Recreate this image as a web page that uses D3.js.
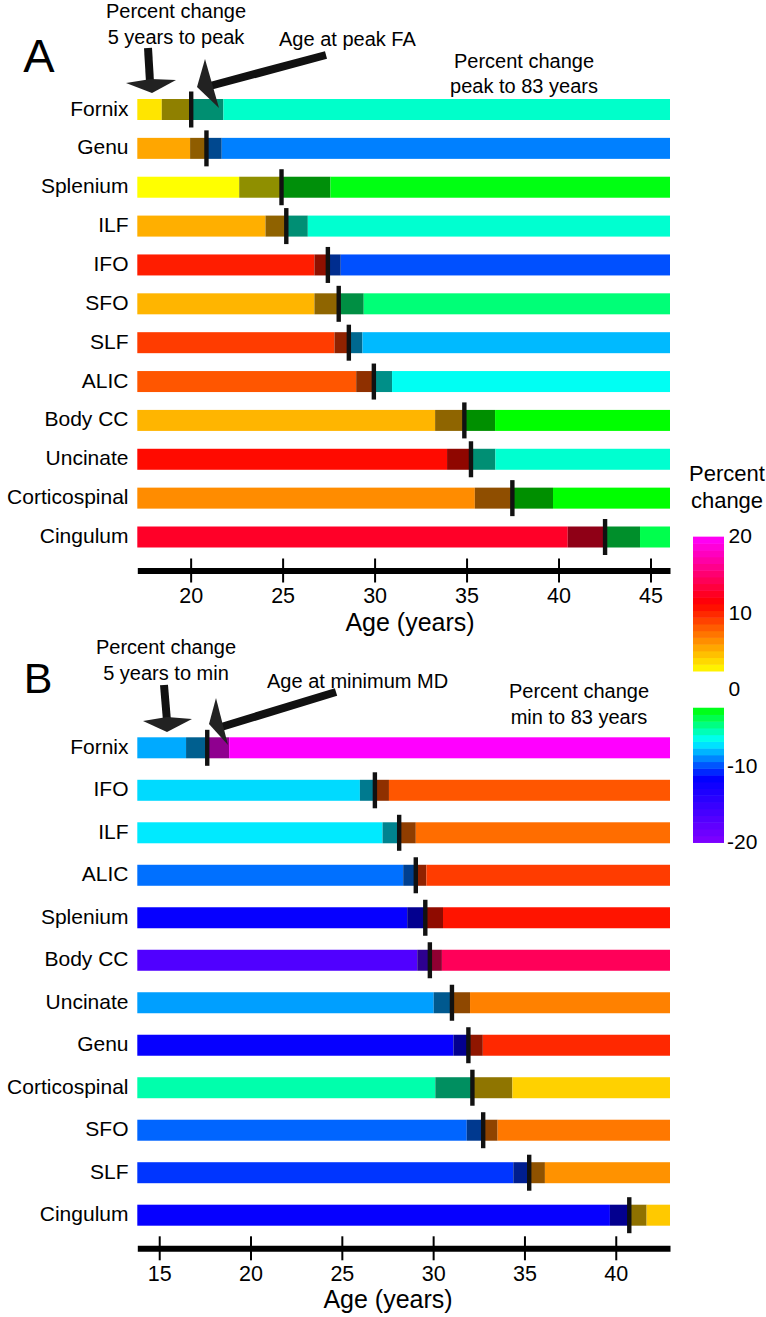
<!DOCTYPE html>
<html><head><meta charset="utf-8">
<script src="https://cdn.jsdelivr.net/npm/d3@7"></script>
<style>
body{margin:0;background:#fff}
svg{display:block}
text{font-family:"Liberation Sans",Arial,sans-serif;fill:#000}
</style>
</head><body>
<svg id="chart" width="766" height="1317"></svg>
<script>
// ---------- Panel A: FA, age at peak ----------
const tractsA = ["Fornix","Genu","Splenium","ILF","IFO","SFO","SLF","ALIC","Body CC","Uncinate","Corticospinal","Cingulum"];
const peakAgeA = [20.03, 20.86, 24.94, 25.20, 27.46, 28.05, 28.60, 29.96, 34.88, 35.24, 37.49, 42.53];
const ciLowA   = [18.43, 19.97, 22.64, 24.07, 26.73, 26.73, 27.82, 29.00, 33.29, 33.94, 35.45, 40.50];
const ciHighA  = [21.78, 21.69, 27.60, 26.37, 28.16, 29.41, 29.34, 30.95, 36.55, 36.57, 39.70, 44.43];
const changeToPeakA    = [3.2, 5.4, 2.3, 5.1, 10.2, 4.9, 9.1, 8.2, 4.9, 10.85, 6.3, 12.55];
const changeAfterPeakA = [-5.9, -9.2, -2.8, -6.0, -10.1, -4.5, -8.1, -6.6, -2.5, -6.0, -2.5, -3.8];
const ticksA = [20, 25, 30, 35, 40, 45];
const ageRangeA = [17.1, 46.06];

// ---------- Panel B: MD, age at minimum ----------
const tractsB = ["Fornix","IFO","ILF","ALIC","Splenium","Body CC","Uncinate","Genu","Corticospinal","SFO","SLF","Cingulum"];
const minAgeB = [17.63, 26.81, 28.14, 29.05, 29.57, 29.82, 31.03, 31.93, 32.15, 32.74, 35.26, 40.74];
const ciLowB  = [16.47, 25.99, 27.23, 28.36, 28.58, 29.13, 30.03, 31.11, 30.12, 31.84, 34.39, 39.68];
const ciHighB = [18.83, 27.58, 29.05, 29.63, 30.54, 30.48, 32.02, 32.72, 34.34, 33.53, 36.12, 41.69];
const changeToMinB    = [-8.4, -7.5, -7.2, -9.5, -12.0, -16.85, -8.6, -12.0, -5.4, -9.7, -10.6, -12.0];
const changeAfterMinB = [19.8, 8.2, 7.4, 9.1, 10.5, 14.2, 6.7, 9.8, 3.9, 7.0, 6.1, 4.2];
const ticksB = [15, 20, 25, 30, 35, 40];
const ageRangeB = [13.8, 42.97];

// ---------- Colour bar ----------
const legendTicks = [20, 10, 0, -10, -20];
const legendPosRange = [2.3, 19.85];
const legendNegRange = [-20.1, -2.5];

// colour map (percent change -> colour)
const posColor = d3.scaleLinear().domain([2.3, 11.2, 19.8]).range(["#ffff00", "#ff0000", "#ff00ff"]).clamp(true);
const negColor = d3.scaleLinear().domain([-20, -11.6, -6.8, -2.5]).range(["#8000ff", "#0000ff", "#00ffff", "#00ff00"]).clamp(true);
const pctColor = v => v >= 0 ? posColor(v) : negColor(v);
const darken = c => d3.interpolateRgb(c, "#000")(0.44);

const svg = d3.select("#chart");

function panel(cfg) {
  const x = d3.scaleLinear().domain(cfg.range).range([137.3, 670]);
  const y = d3.scalePoint().domain(cfg.tracts).range(cfg.yRange);
  const barH = 21;
  const g = svg.append("g");
  const rows = cfg.tracts.map((t, i) => ({
    t, peak: cfg.peak[i], lo: cfg.lo[i], hi: cfg.hi[i],
    c1: pctColor(cfg.before[i]), c2: pctColor(cfg.after[i])
  }));
  const row = g.selectAll("g.row").data(rows).join("g").attr("class", "row");
  const segs = d => [
    {x0: cfg.range[0], x1: d.lo, c: d.c1},
    {x0: d.lo, x1: d.peak, c: darken(d.c1)},
    {x0: d.peak, x1: d.hi, c: darken(d.c2)},
    {x0: d.hi, x1: cfg.range[1], c: d.c2}
  ].map(s => Object.assign(s, {t: d.t}));
  row.selectAll("rect.seg").data(segs).join("rect").attr("class", "seg")
    .attr("x", s => x(s.x0)).attr("width", s => x(s.x1) - x(s.x0))
    .attr("y", s => y(s.t) - barH / 2).attr("height", barH)
    .attr("fill", s => s.c);
  row.append("rect")
    .attr("x", d => x(d.peak) - 2.2).attr("width", 4.4)
    .attr("y", d => y(d.t) - 18).attr("height", 36)
    .attr("fill", "#111");
  row.append("text")
    .attr("x", 128.5).attr("y", d => y(d.t) + 6)
    .attr("text-anchor", "end").style("font-size", "21px")
    .text(d => d.t);

  const ax = g.append("g").attr("transform", `translate(0,${cfg.axisY})`)
    .call(d3.axisBottom(x).tickValues(cfg.ticks).tickSizeOuter(0).tickSizeInner(12).tickFormat(d3.format("d")));
  ax.select(".domain").attr("stroke", "#000").attr("stroke-width", 6);
  ax.selectAll(".tick line").attr("y1", -12).attr("y2", 12).attr("stroke", "#000").attr("stroke-width", 2);
  ax.selectAll(".tick text").attr("y", 32.5).attr("dy", null)
    .style("font-size", "21.5px").style("font-family", "Liberation Sans, Arial, sans-serif").attr("fill", "#000");
  g.append("text").attr("x", cfg.labelX).attr("y", cfg.axisY + 60)
    .attr("text-anchor", "middle").style("font-size", "25px").text("Age (years)");
  return g;
}

panel({tracts: tractsA, peak: peakAgeA, lo: ciLowA, hi: ciHighA, before: changeToPeakA, after: changeAfterPeakA,
  range: ageRangeA, ticks: ticksA, yRange: [109.5, 537], axisY: 570.5, labelX: 410});
panel({tracts: tractsB, peak: minAgeB, lo: ciLowB, hi: ciHighB, before: changeToMinB, after: changeAfterMinB,
  range: ageRangeB, ticks: ticksB, yRange: [747.8, 1215.2], axisY: 1248.3, labelX: 388});

// ---------- annotations ----------
const ann = svg.append("g");
function txt(x, y, s, size, anchor) {
  ann.append("text").attr("x", x).attr("y", y).attr("text-anchor", anchor || "middle")
    .style("font-size", size + "px").text(s);
}
txt(39, 72, "A", 47);
txt(38, 693, "B", 43);
txt(176, 18, "Percent change", 20);
txt(176, 44, "5 years to peak", 20);
txt(279, 46, "Age at peak FA", 20, "start");
txt(524, 68, "Percent change", 20);
txt(524, 93, "peak to 83 years", 20);
txt(166, 654, "Percent change", 20);
txt(166, 680, "5 years to min", 20);
txt(267, 688, "Age at minimum MD", 20, "start");
txt(579, 698, "Percent change", 20);
txt(579, 724, "min to 83 years", 20);

// arrows
function arrow(shaft, head) {
  ann.append("line").attr("x1", shaft[0][0]).attr("y1", shaft[0][1]).attr("x2", shaft[1][0]).attr("y2", shaft[1][1])
    .attr("stroke", "#111").attr("stroke-width", 8);
  ann.append("polygon").attr("points", head.map(p => p.join(",")).join(" ")).attr("fill", "#222");
}
arrow([[148, 48], [150, 82]], [[126, 83], [151, 79], [176, 80], [152, 93]]);
arrow([[326, 55], [210, 86]], [[205, 59], [197, 87], [219, 108]]);
arrow([[164, 685], [167, 721]], [[143, 721], [167, 717], [192, 719], [167, 732]]);
arrow([[336, 692], [218, 728]], [[216, 698], [209, 724], [228, 745]]);

// ---------- colour bar legend ----------
const leg = svg.append("g");
const ly = d3.scaleLinear().domain([20, -20]).range([535.5, 841.7]);
function bands(r, n) {
  const step = (r[1] - r[0]) / n;
  return d3.range(n).map(i => ({a: r[0] + i * step, b: r[0] + (i + 1) * step}));
}
leg.selectAll("rect.p").data(bands(legendPosRange, 20).concat(bands(legendNegRange, 20))).join("rect")
  .attr("x", 693).attr("width", 31)
  .attr("y", d => ly(d.b)).attr("height", d => ly(d.a) - ly(d.b) + 0.5)
  .attr("fill", d => pctColor((d.a + d.b) / 2));
leg.selectAll("text.t").data(legendTicks).join("text")
  .attr("x", d => d < 0 ? 727 : 728.5).attr("y", d => ly(d) + 7.5)
  .style("font-size", "21px").text(d => d);
leg.append("text").attr("x", 727).attr("y", 481).attr("text-anchor", "middle").style("font-size", "22px").text("Percent");
leg.append("text").attr("x", 727).attr("y", 508).attr("text-anchor", "middle").style("font-size", "22px").text("change");
</script>
</body></html>
